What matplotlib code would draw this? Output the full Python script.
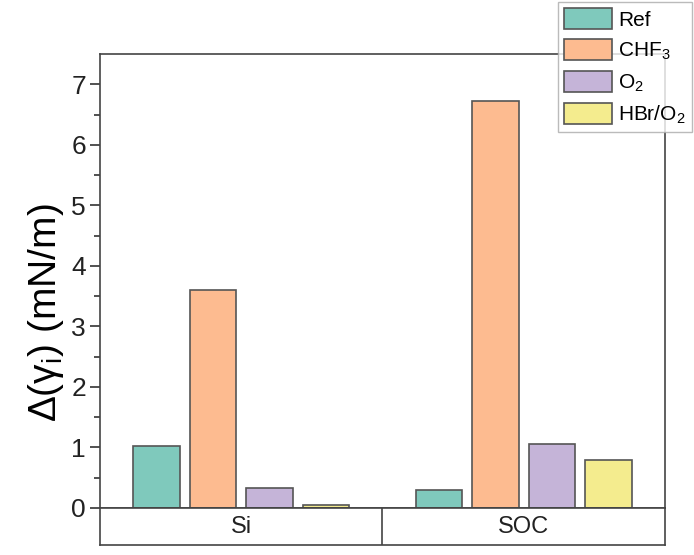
import matplotlib
matplotlib.use('Agg')
import matplotlib.pyplot as plt
import numpy as np

plt.rcParams['font.family'] = ['Liberation Sans', 'DejaVu Sans']
plt.rcParams['mathtext.fontset'] = 'custom'
plt.rcParams['mathtext.rm'] = 'Liberation Sans'
plt.rcParams['mathtext.it'] = 'Liberation Sans:italic'

# data
groups = ['Si', 'SOC']
series = ['Ref', 'CHF$_3$', 'O$_2$', 'HBr/O$_2$']
ref_vals = [1.02, 0.29]
chf3_vals = [3.60, 6.73]
o2_vals = [0.33, 1.05]
hbro2_vals = [0.045, 0.80]
colors = ['#7fc9bc', '#fdbb90', '#c5b4d8', '#f4ec8e']

fig = plt.figure(figsize=(6.94, 5.55), dpi=100)
ax = fig.add_axes([0.144, 0.0847, 0.814, 0.818])
axt = fig.add_axes([0.144, 0.018, 0.814, 0.0667])

x = np.arange(len(groups))
width = 0.165
offsets = [-0.3, -0.1, 0.1, 0.3]
all_vals = [ref_vals, chf3_vals, o2_vals, hbro2_vals]

for vals, off, col, lab in zip(all_vals, offsets, colors, series):
    ax.bar(x + off, vals, width, color=col, edgecolor='#555555', linewidth=1.2, label=lab)

ax.set_xlim(-0.5, 1.5)
ax.set_ylim(0, 7.5)
ax.set_xticks([])
ax.set_yticks(range(0, 8))
ax.set_yticks(np.arange(0.5, 7.5, 1), minor=True)
ax.tick_params(axis='y', which='major', direction='out', length=7, width=1.2,
               labelsize=19, colors='#333333', labelcolor='#222222', pad=3)
ax.tick_params(axis='y', which='minor', direction='out', length=4, width=1.2, colors='#333333')
for s in ax.spines.values():
    s.set_linewidth(1.2)
    s.set_color('#444444')

ax.set_ylabel(r'$\Delta(\mathrm{\gamma}_\mathrm{i})$ (mN/m)', fontsize=28)
ax.yaxis.set_label_coords(-0.06, 0.43)

# category table below the plot
axt.set_xlim(-0.5, 1.5)
axt.set_ylim(0, 1)
axt.set_xticks([])
axt.set_yticks([])
for s in axt.spines.values():
    s.set_linewidth(1.2)
    s.set_color('#444444')
axt.axvline(0.5, color='#444444', linewidth=1.2)
for xi, g in zip(x, groups):
    axt.text(xi, 0.48, g, ha='center', va='center', fontsize=17, color='#222222')

leg = fig.legend(loc='upper right', bbox_to_anchor=(1.0, 1.0), fontsize=15,
                 frameon=True, fancybox=False, edgecolor='#aaaaaa',
                 handlelength=2.3, handleheight=1.15, handletextpad=0.3,
                 labelspacing=0.45, borderpad=0.3, borderaxespad=0.1)
leg.get_frame().set_linewidth(1.0)

fig.savefig('out.png', dpi=100)
